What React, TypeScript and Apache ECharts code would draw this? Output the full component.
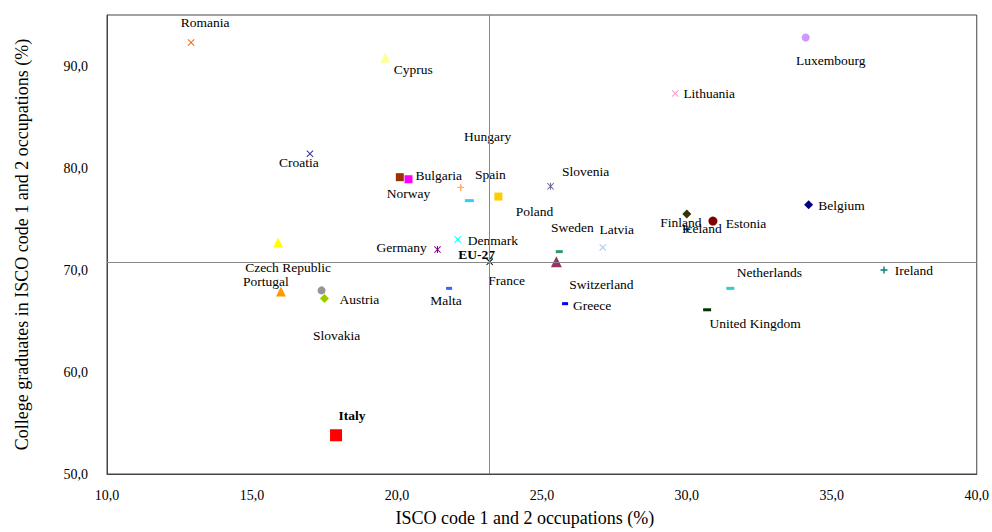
import React, { useEffect, useRef } from "react";
import * as echarts from "echarts";

// ---- Data ----
const countries = [
  "Romania", "Cyprus", "Croatia", "Bulgaria", "Norway", "Hungary", "Poland", "Spain",
  "Slovenia", "Sweden", "Latvia", "Denmark", "Germany", "France", "EU-27", "Switzerland",
  "Greece", "Malta", "Czech Republic", "Portugal", "Slovakia", "Austria", "Italy",
  "Lithuania", "Luxembourg", "Belgium", "Finland", "Iceland", "Estonia", "Ireland",
  "Netherlands", "United Kingdom",
];
// ISCO code 1 and 2 occupations (%)
const iscoShare = [
  12.9, 19.6, 17.0, 20.1, 20.4, 22.2, 22.5, 23.5,
  25.3, 25.6, 27.1, 22.1, 21.4, 23.2, 23.2, 25.5,
  25.8, 21.8, 15.9, 16.0, 17.4, 17.5, 17.9,
  29.6, 34.1, 34.2, 30.0, 30.0, 30.9, 36.8,
  31.5, 30.7,
];
// College graduates in ISCO code 1 and 2 occupations (%)
const gradShare = [
  92.3, 90.8, 81.4, 79.1, 78.9, 78.1, 76.8, 77.2,
  78.2, 71.8, 72.2, 73.0, 72.0, 71.1, 70.8, 70.8,
  66.7, 68.2, 72.7, 67.9, 68.0, 67.2, 53.8,
  87.3, 92.8, 76.4, 75.5, 74.0, 74.8, 70.0,
  68.2, 66.1,
];
const euAverage = { x: 23.17, y: 70.8 };
const xTicks = { min: 10, max: 40, interval: 5 };
const yTicks = { min: 50, max: 95, interval: 10 };

// ---- Styles (not data) ----
const CROSS = "path://M0,1L1,0L5,4L9,0L10,1L6,5L10,9L9,10L5,6L1,10L0,9L4,5Z";
const PLUS = "path://M4,0H6V4H10V6H6V10H4V6H0V4H4Z";
const STAR = "path://M0,1L1,0L5,4L9,0L10,1L6,5L10,9L9,10L5,6L1,10L0,9L4,5Z M4.3,0H5.7V10H4.3Z";

type MS = { symbol: string; color: string; size: number | number[] };
const markerStyle: Record<string, MS> = {
  Romania: { symbol: CROSS, color: "#FF6600", size: 7 },
  Cyprus: { symbol: "triangle", color: "#FFFF99", size: 10 },
  Croatia: { symbol: CROSS, color: "#333399", size: 7 },
  Bulgaria: { symbol: "rect", color: "#993300", size: 8 },
  Norway: { symbol: "rect", color: "#FF00FF", size: 8 },
  Hungary: { symbol: PLUS, color: "#FFAA66", size: 7 },
  Poland: { symbol: "rect", color: "#33CCFF", size: [9, 3] },
  Spain: { symbol: "rect", color: "#FFCC00", size: 8 },
  Slovenia: { symbol: STAR, color: "#666699", size: 7 },
  Sweden: { symbol: "rect", color: "#339966", size: [7, 3] },
  Latvia: { symbol: CROSS, color: "#99CCFF", size: 7 },
  Denmark: { symbol: CROSS, color: "#00FFFF", size: 7 },
  Germany: { symbol: STAR, color: "#800080", size: 7 },
  France: { symbol: "rect", color: "#99EEEE", size: [7, 3] },
  "EU-27": { symbol: CROSS, color: "#000000", size: 7 },
  Switzerland: { symbol: "triangle", color: "#993366", size: 11 },
  Greece: { symbol: "rect", color: "#0000FF", size: [6, 3] },
  Malta: { symbol: "rect", color: "#3366FF", size: [6, 3] },
  "Czech Republic": { symbol: "triangle", color: "#FFFF00", size: 10 },
  Portugal: { symbol: "triangle", color: "#FF9900", size: 10 },
  Slovakia: { symbol: "circle", color: "#969696", size: 8 },
  Austria: { symbol: "diamond", color: "#99CC00", size: 9 },
  Italy: { symbol: "rect", color: "#FF0000", size: 12 },
  Lithuania: { symbol: CROSS, color: "#FF99CC", size: 7 },
  Luxembourg: { symbol: "circle", color: "#CC99FF", size: 8 },
  Belgium: { symbol: "diamond", color: "#000080", size: 9 },
  Finland: { symbol: "diamond", color: "#333300", size: 9 },
  Iceland: { symbol: PLUS, color: "#003366", size: 7 },
  Estonia: { symbol: "circle", color: "#800000", size: 9 },
  Ireland: { symbol: PLUS, color: "#008080", size: 7 },
  Netherlands: { symbol: "rect", color: "#33CCCC", size: [8, 3] },
  "United Kingdom": { symbol: "rect", color: "#003300", size: [8, 3] },
};

// label offset from marker centre, in px
const labelOffset: Record<string, number[]> = {
  Romania: [14, -20], Cyprus: [28, 12], Croatia: [-11, 9], Bulgaria: [39, -2],
  Norway: [0, 14], Hungary: [27, -51], Poland: [65, 11], Spain: [-8, -22],
  Slovenia: [35, -15], Sweden: [13, -24], Latvia: [14, -18], Denmark: [35, 1],
  Germany: [-36, -2], France: [17, 22], "EU-27": [-13, -7], Switzerland: [45, 23],
  Greece: [27, 2], Malta: [-3, 12], "Czech Republic": [10, 25], Portugal: [-15, -10],
  Slovakia: [15, 45], Austria: [35, 1], Italy: [16, -20], Lithuania: [34, 0],
  Luxembourg: [25, 23], Belgium: [33, 1], Finland: [-6, 9], Iceland: [15, -1],
  Estonia: [33, 2], Ireland: [30, 0], Netherlands: [39, -16], "United Kingdom": [48, 14],
};
const boldLabels = ["EU-27", "Italy"];

const FONT = "'Liberation Serif', 'Times New Roman', serif";
const fmt = (v: number) => v.toFixed(1).replace(".", ",");

export default function App() {
  const ref = useRef<HTMLDivElement>(null);
  useEffect(() => {
    if (!ref.current) return;
    const chart = echarts.init(ref.current, null, { renderer: "svg" });
    const data = countries.map((name, i) => {
      const s = markerStyle[name];
      const off = labelOffset[name] || [0, -12];
      return {
        name,
        value: [iscoShare[i], gradShare[i]],
        symbol: s.symbol,
        symbolSize: s.size,
        itemStyle: { color: s.color, opacity: 1 },
        label: {
          show: true,
          position: "inside",
          offset: off,
          formatter: name,
          fontFamily: FONT,
          fontSize: 13.5,
          color: "#000",
          fontWeight: boldLabels.includes(name) ? "bold" : "normal",
        },
      };
    });
    chart.setOption({
      animation: false,
      backgroundColor: "#fff",
      textStyle: { fontFamily: FONT },
      grid: {
        left: 107, right: 11, top: 15, bottom: 56,
        show: true, borderColor: "#444", borderWidth: 1,
      },
      xAxis: {
        type: "value",
        min: xTicks.min, max: xTicks.max, interval: xTicks.interval,
        name: "ISCO code 1 and 2 occupations (%)",
        nameLocation: "middle", nameGap: 35,
        nameTextStyle: { fontFamily: FONT, fontSize: 18, color: "#000", padding: [0, 34, 0, 0] },
        axisLine: { show: true, lineStyle: { color: "#444" } },
        axisTick: { show: false },
        splitLine: { show: false },
        axisLabel: { formatter: fmt, fontFamily: FONT, fontSize: 14, color: "#000", margin: 14 },
      },
      yAxis: {
        type: "value",
        min: yTicks.min, max: yTicks.max, interval: yTicks.interval,
        name: "College graduates in ISCO code 1 and 2 occupations (%)",
        nameLocation: "middle", nameGap: 76,
        nameTextStyle: { fontFamily: FONT, fontSize: 18, color: "#000" },
        axisLine: { show: true, lineStyle: { color: "#444" } },
        axisTick: { show: false },
        splitLine: { show: false },
        axisLabel: { formatter: fmt, fontFamily: FONT, fontSize: 14, color: "#000", margin: 19, showMaxLabel: false },
      },
      series: [
        {
          type: "scatter",
          data,
          z: 3,
          markLine: {
            silent: true,
            symbol: "none",
            label: { show: false },
            lineStyle: { color: "#888", width: 1, type: "solid" },
            data: [{ xAxis: euAverage.x }, { yAxis: euAverage.y }],
          },
        },
      ],
    });
    return () => chart.dispose();
  }, []);
  return (
    <div
      ref={ref}
      style={{ position: "absolute", left: 0, top: 0, width: 992, height: 532 }}
    />
  );
}
